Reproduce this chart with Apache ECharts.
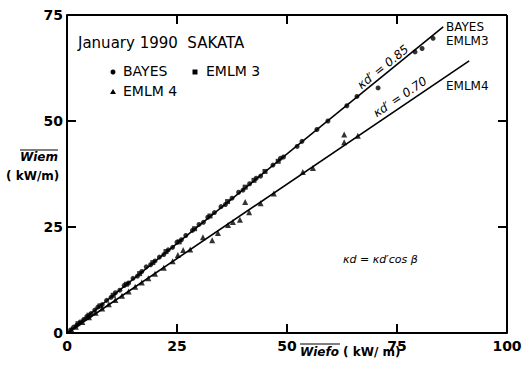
<!DOCTYPE html>
<html><head><meta charset="utf-8">
<script src="https://cdn.jsdelivr.net/npm/echarts@6/dist/echarts.min.js"></script>
<style>html,body{margin:0;padding:0;background:#fff}#c{width:527px;height:367px}</style>
</head><body><div id="c"></div>
<script>
var xTicks = [0, 25, 50, 75, 100];
var yTicks = [0, 25, 50, 75];
var bayes = [[0.8,0.7],[1.5,1.4],[2.2,1.8],[3.0,2.6],[3.8,3.2],[4.5,3.9],[5.5,4.6],[6.3,5.4],[7.0,6.1],[8.0,6.7],[9.0,7.7],[10.0,8.4],[11.0,9.5],[12.0,10.1],[13.0,11.2],[14.0,11.8],[15.0,12.9],[16.0,13.4],[17.0,14.5],[18.0,15.6],[19.0,16.1],[20.0,17.0],[21.0,17.9],[22.0,18.5],[23.0,19.6],[24.0,20.2],[25.0,21.4],[26.0,22.0],[27.0,23.0],[28.5,24.2],[30.0,25.6],[31.0,26.1],[32.0,27.3],[33.5,28.4],[35.0,29.8],[36.0,30.3],[37.5,31.8],[39.0,33.2],[40.0,33.7],[41.5,35.2],[43.0,36.5],[44.0,37.0],[46.8,39.6],[48.5,41.2],[49.2,41.5],[52.3,44.0],[53.4,45.2],[56.8,48.0],[59.3,50.0],[63.6,53.6],[65.9,55.8],[70.7,57.8],[79.1,66.3],[80.7,67.1],[83.2,69.5]];
var emlm3 = [[2.5,2.2],[5.0,4.2],[7.5,6.4],[10.5,8.9],[13.5,11.5],[16.5,14.0],[19.5,16.6],[22.5,19.2],[25.5,21.5],[29.0,24.6],[32.5,27.6],[36.5,31.0],[40.5,34.4],[42.5,36.0],[45.0,38.1],[48.0,40.5]];
var emlm4 = [[1.0,0.8],[2.0,1.5],[3.5,2.6],[5.0,3.7],[6.5,4.8],[8.0,5.8],[9.5,6.8],[11.0,7.8],[12.5,8.8],[14.0,9.8],[15.5,10.9],[17.0,11.9],[18.5,12.9],[20.0,14.0],[22.0,15.4],[24.0,16.9],[25.2,18.4],[26.4,19.6],[28.0,19.7],[30.9,22.6],[33.0,21.9],[34.3,23.6],[36.6,25.5],[37.7,26.2],[39.3,26.7],[40.5,30.9],[41.4,28.5],[44.0,30.6],[47.0,32.9],[53.6,38.0],[55.9,38.9],[63.0,45.0],[63.0,46.8],[66.1,46.5]];
var fit085 = [[0,0],[85.5,72.2]];
var fit070 = [[0,0],[91.4,64.2]];

var F = 'DejaVu Sans';
var chart = echarts.init(document.getElementById('c'), null, {renderer:'svg'});
function mkLine(){ return {show:true,lineStyle:{color:'#000',width:2}}; }
function mkTick(){ return {show:true,inside:true,length:9,lineStyle:{color:'#000',width:2}}; }
var graphics = [
    {type:'text',left:78,top:35,style:{text:'January 1990  SAKATA',font:'15px "DejaVu Sans"',fill:'#000'}},
    {type:'circle',shape:{cx:113,cy:72,r:2.5},style:{fill:'#000'}},
    {type:'text',left:123,top:64,style:{text:'BAYES',font:'14px "DejaVu Sans"',fill:'#000'}},
    {type:'rect',shape:{x:192.5,y:69.5,width:5,height:5},style:{fill:'#000'}},
    {type:'text',left:206,top:64,style:{text:'EMLM 3',font:'14px "DejaVu Sans"',fill:'#000'}},
    {type:'polygon',shape:{points:[[113,89],[110,94],[116,94]]},style:{fill:'#000'}},
    {type:'text',left:123,top:84,style:{text:'EMLM 4',font:'14px "DejaVu Sans"',fill:'#000'}},
    {type:'text',left:446,top:20,style:{text:'BAYES\nEMLM3',font:'12px "DejaVu Sans"',lineHeight:14,fill:'#000'}},
    {type:'text',left:446,top:80,style:{text:'EMLM4',font:'12px "DejaVu Sans"',fill:'#000'}},
    {type:'text',x:383,y:67,rotation:39*Math.PI/180,style:{text:"κd′ = 0.85",font:'italic 12px "DejaVu Sans"',fill:'#000',align:'center',verticalAlign:'middle'}},
    {type:'text',x:400,y:97,rotation:34*Math.PI/180,style:{text:"κd′ = 0.70",font:'italic 12px "DejaVu Sans"',fill:'#000',align:'center',verticalAlign:'middle'}},
    {type:'text',left:343,top:254,style:{text:"κd = κd′cos β",font:'italic 11px "DejaVu Sans"',fill:'#000'}},
    {type:'text',left:20,top:151,style:{text:'Wiem',font:'italic bold 12px "DejaVu Sans"',fill:'#000'}},
    {type:'line',shape:{x1:20,y1:150,x2:58,y2:150},style:{stroke:'#000',lineWidth:1.2}},
    {type:'text',left:6,top:170,style:{text:'( kW/m)',font:'bold 12px "DejaVu Sans"',fill:'#000'}},
    {type:'text',left:300,top:346,style:{text:'Wiefo',font:'italic bold 12px "DejaVu Sans"',fill:'#000'}},
    {type:'line',shape:{x1:300,y1:344,x2:340,y2:344},style:{stroke:'#000',lineWidth:1.2}},
    {type:'text',left:343,top:346,style:{text:'( kW/ m)',font:'bold 12px "DejaVu Sans"',fill:'#000'}}
];
function lbl(ticks, m){
  return {color:'#000',fontFamily:F,fontSize:14,fontWeight:'bold',margin:m,
    formatter:function(v){return ticks.indexOf(v)>=0?String(v):'';}};
}
var seriesList = [
    {type:'line',data:fit085,symbol:'none',lineStyle:{color:'#000',width:1.6}},
    {type:'line',data:fit070,symbol:'none',lineStyle:{color:'#000',width:1.6}},
    {type:'scatter',name:'BAYES',data:bayes,symbol:'circle',symbolSize:5,itemStyle:{color:'#000'}},
    {type:'scatter',name:'EMLM 3',data:emlm3,symbol:'rect',symbolSize:5,itemStyle:{color:'#000'}},
    {type:'scatter',name:'EMLM 4',data:emlm4,symbol:'triangle',symbolSize:6,itemStyle:{color:'#000'}}
];
var opt = {
  animation:false,
  grid:{left:67,right:20,top:15,bottom:34},
  xAxis:{type:'value',min:0,max:100,interval:25,axisLine:mkLine(),axisTick:mkTick(),splitLine:{show:false},axisLabel:lbl(xTicks,6)},
  yAxis:{type:'value',min:0,max:75,interval:25,axisLine:mkLine(),axisTick:mkTick(),splitLine:{show:false},axisLabel:lbl(yTicks,4)},
  series:seriesList,
  graphic:graphics
};
chart.setOption(opt);
// frame on top/right and inner ticks on all four sides, placed through the library's scales
var L = 9, extra = [];
var yB = chart.convertToPixel({yAxisIndex:0}, 0), yT = chart.convertToPixel({yAxisIndex:0}, 75);
var xL = chart.convertToPixel({xAxisIndex:0}, 0), xR = chart.convertToPixel({xAxisIndex:0}, 100);
extra.push({type:'line',z:100,shape:{x1:xL,y1:yT,x2:xR,y2:yT},style:{stroke:'#000',lineWidth:2}});
extra.push({type:'line',z:100,shape:{x1:xR,y1:yT,x2:xR,y2:yB},style:{stroke:'#000',lineWidth:2}});
xTicks.slice(1,-1).forEach(function(v){
  var px = chart.convertToPixel({xAxisIndex:0}, v);
  extra.push({type:'line',z:100,shape:{x1:px,y1:yB,x2:px,y2:yB-L},style:{stroke:'#000',lineWidth:2}});
  extra.push({type:'line',z:100,shape:{x1:px,y1:yT,x2:px,y2:yT+L},style:{stroke:'#000',lineWidth:2}});
});
yTicks.slice(1,-1).forEach(function(v){
  var py = chart.convertToPixel({yAxisIndex:0}, v);
  extra.push({type:'line',z:100,shape:{x1:xL,y1:py,x2:xL+L,y2:py},style:{stroke:'#000',lineWidth:2}});
  extra.push({type:'line',z:100,shape:{x1:xR,y1:py,x2:xR-L,y2:py},style:{stroke:'#000',lineWidth:2}});
});
chart.setOption({graphic:graphics.concat(extra)});
</script></body></html>
